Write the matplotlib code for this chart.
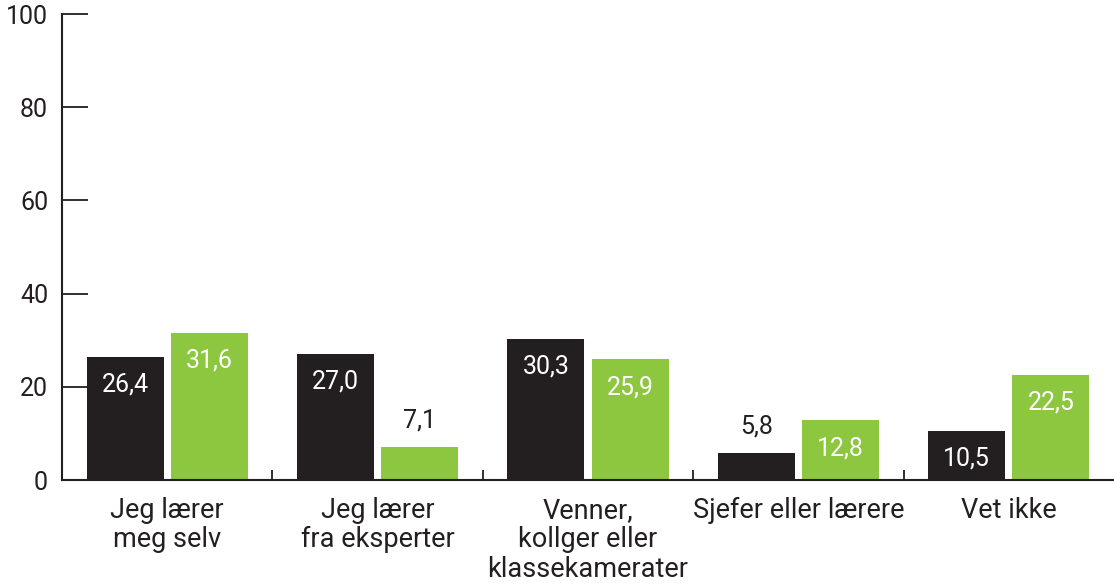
import matplotlib
matplotlib.use("Agg")
import matplotlib.pyplot as plt
import numpy as np

categories = ["Jeg lærer\nmeg selv", "Jeg lærer\nfra eksperter", "Venner,\nkollger eller\nklassekamerater",
              "Sjefer eller lærere", "Vet ikke"]
series_black = [26.4, 27.0, 30.3, 5.8, 10.5]
series_green = [31.6, 7.1, 25.9, 12.8, 22.5]
yticks = [0, 20, 40, 60, 80, 100]

BLACK = "#231F20"
GREEN = "#8DC63F"

plt.rcParams['font.family'] = ['Roboto', 'DejaVu Sans']

fig = plt.figure(figsize=(11.14, 5.88), dpi=100)
ax = fig.add_axes([62/1114, 1 - 480/588, 1 - 62/1114, (480 - 14)/588])

x = np.arange(len(categories)) + 0.5
width = 0.366
off = 0.2

def fmt(v):
    return f"{v:.1f}".replace(".", ",")

for xs, vals, col in [(x - off, series_black, BLACK), (x + off, series_green, GREEN)]:
    bars = ax.bar(xs, vals, width=width, color=col, zorder=2)
    for b, v in zip(bars, vals):
        cx = b.get_x() + b.get_width() / 2
        if v >= 8:
            ax.annotate(fmt(v), (cx, v), xytext=(0, -20), textcoords="offset points",
                        ha="center", va="center", color="white", fontsize=18)
        else:
            ax.annotate(fmt(v), (cx, v), xytext=(0, 19), textcoords="offset points",
                        ha="center", va="center", color=BLACK, fontsize=18)

ax.set_xlim(0, 5)
ax.set_ylim(0, 100)
ax.set_yticks(yticks)
ax.set_yticklabels([str(t) for t in yticks])
ax.set_xticks(x)
ax.set_xticklabels(categories, linespacing=1.12)
ax.set_xticks([1, 2, 3, 4], minor=True)

for s in ["top", "right"]:
    ax.spines[s].set_visible(False)
for s in ["left", "bottom"]:
    ax.spines[s].set_color(BLACK)
    ax.spines[s].set_linewidth(1.5)

ax.tick_params(axis="y", direction="in", length=18.5, width=1.3, color=BLACK,
               labelsize=18, labelcolor=BLACK, pad=10)
ax.tick_params(axis="x", which="major", length=0, labelsize=19.5, labelcolor=BLACK, pad=12)
ax.tick_params(axis="x", which="minor", direction="in", length=7, width=1.3, color=BLACK)

fig.savefig("out.png", dpi=100)
